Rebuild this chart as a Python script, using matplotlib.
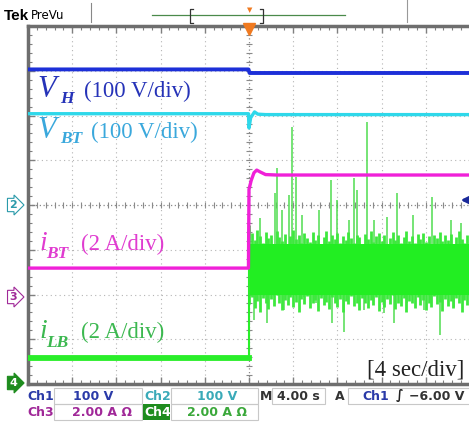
import matplotlib.pyplot as plt
import numpy as np
from matplotlib.lines import Line2D
from matplotlib.patches import Rectangle

# time axis in seconds (4 s/div, trigger at centre), vertical axis in divisions
t_vh = [-20, -0.05, 0.05, 20]
v_vh = [3.03, 3.03, 2.95, 2.95]

t_vbt = [-20, -0.05, 0.0, 0.15, 0.5, 0.8, 1.5, 20]
v_vbt = [2.04, 2.04, 1.72, 1.95, 2.08, 2.03, 2.02, 2.02]

t_ibt = [-20, -0.05, 0.0, 0.2, 0.45, 0.7, 1.0, 1.5, 2.5, 20]
v_ibt = [-1.41, -1.41, 0.35, 0.55, 0.72, 0.78, 0.74, 0.68, 0.67, 0.67]

t_ilb_pre = [-20, 0]
v_ilb_pre = [-3.42, -3.42]

# iLB after the step: noise band envelope every 0.25 s
t_core = np.arange(0, 20.01, 0.25)
core_hi = [-0.45, -0.62, -0.78, -0.55, -0.70, -0.84, -0.60, -0.74,
           -0.66, -0.88, -0.58, -0.72, -0.80, -0.64, -0.92, -0.70,
           -0.56, -0.76, -0.68, -0.86, -0.62, -0.74, -0.82, -0.60,
           -0.78, -0.66, -0.90, -0.72, -0.58, -0.80, -0.68, -0.76,
           -0.62, -0.86, -0.70, -0.78, -0.60, -0.74, -0.84, -0.66,
           -0.72, -0.88, -0.64, -0.76, -0.58, -0.82, -0.70, -0.62,
           -0.80, -0.68, -0.90, -0.74, -0.60, -0.78, -0.66, -0.84,
           -0.72, -0.58, -0.80, -0.70, -0.86, -0.64, -0.76, -0.62,
           -0.82, -0.70, -0.92, -0.66, -0.74, -0.60, -0.80, -0.68,
           -0.78, -0.64, -0.88, -0.72, -0.58, -0.76, -0.84, -0.66,
           -0.70]
core_lo = [-2.22, -2.05, -2.30, -2.14, -2.38, -2.08, -2.20, -2.32,
           -2.10, -2.26, -2.02, -2.18, -2.34, -2.12, -2.24, -2.06,
           -2.28, -2.16, -2.40, -2.10, -2.22, -2.04, -2.30, -2.18,
           -2.12, -2.36, -2.08, -2.24, -2.16, -2.32, -2.06, -2.20,
           -2.28, -2.10, -2.38, -2.14, -2.22, -2.04, -2.26, -2.18,
           -2.34, -2.08, -2.20, -2.30, -2.12, -2.24, -2.06, -2.36,
           -2.16, -2.28, -2.10, -2.22, -2.02, -2.32, -2.18, -2.26,
           -2.08, -2.38, -2.14, -2.20, -2.30, -2.06, -2.24, -2.12,
           -2.34, -2.18, -2.28, -2.04, -2.22, -2.16, -2.36, -2.10,
           -2.26, -2.14, -2.30, -2.08, -2.20, -2.40, -2.12, -2.24,
           -2.18]
core_solid = (-0.88, -2.02)
ilb_mid = -1.45

t_spike_up = [2.53, 3.89, 4.25, 2.35, 3.62, 2.99, 4.80, 7.42, 7.96, 9.50, 9.05, 1.00,
              6.33, 10.68, 9.77, 13.39, 16.56, 12.49, 14.84, 11.31, 18.28, 19.19]
v_spike_up = [0.83, 1.74, 0.63, 0.27, 0.22, -0.11, -0.22, 0.56, 0.11, 0.60, -0.34, -0.29,
              -0.11, 1.86, 0.34, 0.27, 0.18, -0.27, -0.22, -0.34, -0.34, -0.40]
t_spike_dn = [0.45, 1.63, 3.17, 6.06, 7.51, 8.60, 4.98, 13.12, 17.29, 10.41, 14.30,
              15.84, 18.55, 12.22]
v_spike_dn = [-2.57, -2.64, -2.35, -2.19, -2.64, -2.84, -2.06, -2.64, -2.91, -2.35,
              -2.19, -2.35, -2.28, -2.42]

W, H = 469, 422
fig = plt.figure(figsize=(W / 100, H / 100), dpi=100)


def fx(px):
    return px / W


def fy(py):
    return 1 - py / H


ax = fig.add_axes([fx(28), fy(384), 442 / W, 358 / H])
ax.set_xlim(-20, 20)
ax.set_ylim(-4, 4)

# graticule
for g in range(-16, 20, 4):
    if g != 0:
        ax.axvline(g, ls=(0, (1, 3)), color='#b4b4b4', lw=0.8, zorder=1)
for g in range(-3, 4):
    if g != 0:
        ax.axhline(g, ls=(0, (1, 3)), color='#b4b4b4', lw=0.8, zorder=1)
ax.axhline(0, ls=(0, (1, 2)), color='#8a8a8a', lw=0.9, zorder=1)
ax.axvline(0, ls=(0, (1, 2)), color='#8a8a8a', lw=0.9, zorder=1)
ax.plot(np.arange(-20, 20.01, 0.8), np.zeros(51), ls='', marker='|', ms=4,
        color='#8a8a8a', mew=0.8, zorder=1)
ax.plot(np.zeros(41), np.arange(-4, 4.01, 0.2), ls='', marker='_', ms=4,
        color='#8a8a8a', mew=0.8, zorder=1)

ax.set_xticks(range(-20, 21, 4))
ax.set_xticks(np.arange(-20, 20.01, 0.8), minor=True)
ax.set_yticks(range(-4, 5))
ax.set_yticks(np.arange(-4, 4.01, 0.2), minor=True)
ax.tick_params(which='both', direction='in', color='#808080', top=True, right=False,
               labelbottom=False, labelleft=False)
ax.tick_params(which='major', length=5, width=1)
ax.tick_params(which='minor', length=3, width=0.8)
for s in ax.spines.values():
    s.set_color('#6e6e6e')
    s.set_linewidth(2.5)
ax.spines['right'].set_visible(False)

# traces
ax.plot(t_vh, v_vh, color='#1c2fd8', lw=2.8, zorder=4)
ax.plot(t_vbt, v_vbt, color='#2ed8ea', lw=2.4, zorder=4)
ax.plot(t_ibt, v_ibt, color='#f020d8', lw=2.4, zorder=4)
ax.plot(t_ilb_pre, v_ilb_pre, color='#2aee2a', lw=4.2, zorder=4)
ax.vlines(t_spike_up, ilb_mid, v_spike_up, color='#50dc50', lw=1.1, zorder=3)
ax.vlines(t_spike_dn, v_spike_dn, ilb_mid, color='#50dc50', lw=1.1, zorder=3)
ax.vlines(t_core, core_lo, core_hi, color='#3ee83e', lw=2.0, zorder=3)
ax.fill_between([0, 20], core_solid[1], core_solid[0], color='#22ee22', lw=0, zorder=3)
ax.vlines(0, -3.42, -0.55, color='#2aee2a', lw=1.5, zorder=3)

# trigger level arrow and trigger position marker
ax.annotate('', xy=(18.9, 0.11), xytext=(20.0, 0.11),
            arrowprops=dict(arrowstyle='-|>', color='#1a2a9a', lw=2), zorder=6)
ax.plot(0, 3.93, marker='v', color='#f07a20', ms=8, clip_on=False, zorder=6)

# trace labels
serif = 'Liberation Serif'
labels = [
    ('V', 'H', '(100 V/div)', -19.19, 2.42, 2.28, -14.93, '#2633b8', 22),
    ('V', 'BT', '(100 V/div)', -19.19, 1.50, 1.39, -14.30, '#3aa8dc', 22),
    ('i', 'BT', '(2 A/div)', -19.0, -1.01, -1.19, -15.2, '#e03cd0', 20),
    ('i', 'LB', '(2 A/div)', -19.0, -2.98, -3.18, -15.2, '#3cb850', 20),
]
for main, sub, unit, x0, yb, ys, xu, col, sz in labels:
    ax.text(x0, yb, main, family=serif, style='italic', size=sz, color=col,
            va='baseline', zorder=7)
    xs = x0 + (2.1 if main == 'V' else 0.63)
    ax.text(xs, ys, sub, family=serif, style='italic', weight='bold', size=12.5,
            color=col, va='baseline', zorder=7)
    ax.text(xu, yb, unit, family=serif, size=16.5, color=col, va='baseline', zorder=7)

ax.text(19.46, -3.80, '[4 sec/div]', family=serif, size=16.5, color='#222222',
        ha='right', va='baseline', zorder=7)

# channel ground markers on the left
markers = [('2', 205, 'white', '#2a9aaa', '#2a9aaa'),
           ('3', 297, 'white', '#a02898', '#a02898'),
           ('4', 383, '#1e8c1e', '#1e8c1e', 'white')]
for lab, py, fc, ec, tc in markers:
    fig.text(fx(13), fy(py), lab, ha='center', va='center', size=8, weight='bold',
             color=tc, bbox=dict(boxstyle='rarrow,pad=0.15', fc=fc, ec=ec, lw=0.8))

# header bar
fig.text(fx(4), fy(20), 'Tek', size=11, weight='bold', family='Liberation Sans',
         va='baseline')
fig.text(fx(31), fy(19), 'PreVu', size=8.5, va='baseline')
fig.add_artist(Line2D([fx(91), fx(91)], [fy(3), fy(22)], color='#888888', lw=0.8))
fig.add_artist(Line2D([fx(152), fx(345)], [fy(15), fy(15)], color='#4a8a4a', lw=0.9))
for bx, d in [(190, 1), (263, -1)]:
    fig.add_artist(Line2D([fx(bx + 3 * d), fx(bx), fx(bx), fx(bx + 3 * d)],
                          [fy(9), fy(9), fy(23), fy(23)], color='#333333', lw=0.9))
fig.add_artist(Line2D([fx(407), fx(407)], [fy(0), fy(22)], color='#999999', lw=0.8))
fig.text(fx(250), fy(10), '\u25bc', size=5, color='#f07a20', ha='center', va='center')

# status boxes
boxes = [(54, 142, 388, 404), (171, 258, 388, 404), (272, 325, 388, 404),
         (348, 470, 388, 404), (54, 142, 404, 420), (171, 258, 404, 420)]
for x0, x1, y0, y1 in boxes:
    fig.add_artist(Rectangle((fx(x0), fy(y1)), (x1 - x0) / W, (y1 - y0) / H,
                             fill=False, ec='#c8c8c8', lw=0.8))
fig.add_artist(Rectangle((fx(143), fy(420)), 27 / W, 16 / H, fc='#1e8c1e', ec='none'))

row1, row2 = 396, 412
status = [
    ('Ch1', 27, row1, '#2a3aa8'), ('100 V', 73, row1, '#2a3aa8'),
    ('Ch2', 144, row1, '#3aaab8'), ('100 V', 197, row1, '#3aaab8'),
    ('M', 260, row1, '#333333'), ('4.00 s', 277, row1, '#333333'),
    ('A', 335, row1, '#333333'), ('Ch1', 362, row1, '#2a3aa8'),
    ('\u222b', 396, row1, '#222222'), ('\u22126.00 V', 409, row1, '#333333'),
    ('Ch3', 27, row2, '#a02898'), ('2.00 A \u03a9', 72, row2, '#a02898'),
    ('Ch4', 144, row2, 'white'), ('2.00 A \u03a9', 187, row2, '#3aa83a'),
]
for txt, px, py, col in status:
    fig.text(fx(px), fy(py), txt, size=9, weight='bold', color=col, va='center')

fig.savefig('out.png', dpi=100)
